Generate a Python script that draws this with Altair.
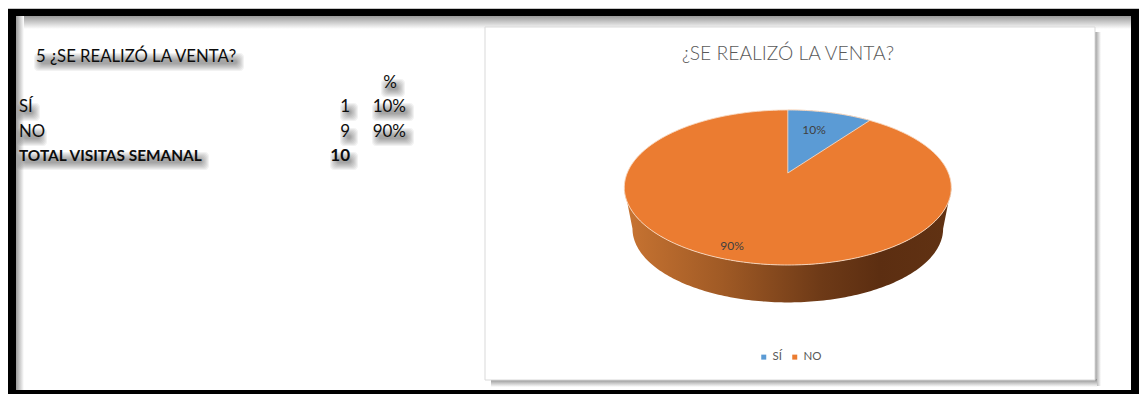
import math
import altair as alt

# Survey results
categories = ["SÍ", "NO"]
counts = [1, 9]
shares = [10, 90]
total = 10
heading = "5 ¿SE REALIZÓ LA VENTA?"
chart_title = "¿SE REALIZÓ LA VENTA?"

FONT = "Lato"
W, H = 1139, 394

# Perspective of the tilted pie disc
SEMI_X, SEMI_Y, TILT = 160.6, 74.8, 0.187
CENTER = [787.8, 173]
WALL_SCALE, WALL_DROP = 0.95, 42


def project(theta_deg, scale=1.0, drop=0.0):
    t = math.radians(theta_deg)
    d = 1 + TILT * math.cos(t)
    return [scale * SEMI_X * math.sin(t) / d, scale * SEMI_Y * math.cos(t) / d - drop]


def arc(start, end, **kw):
    n = max(2, int(abs(end - start)) + 1)
    return [project(start + (end - start) * i / (n - 1), **kw) for i in range(n)]


def feature(ring, category):
    ring = ring + [ring[0]]
    return {
        "type": "Feature",
        "properties": {"category": category},
        "geometry": {"type": "Polygon", "coordinates": [ring]},
    }


def geo_data(features):
    return alt.Data(
        values={"type": "FeatureCollection", "features": features},
        format=alt.DataFormat(property="features", type="json"),
    )


def rect(x, x2, y, y2, fill, **mark):
    return alt.Chart(alt.Data(values=[{"k": 0}])).mark_rect(color=fill, **mark).encode(
        x=alt.value(x), x2=alt.value(x2), y=alt.value(y), y2=alt.value(y2)
    )


def fade(horizontal, color):
    stops = [
        alt.GradientStop(offset=0, color=color),
        alt.GradientStop(offset=1, color="#ffffff"),
    ]
    return alt.Gradient(
        gradient="linear", stops=stops,
        x1=0, y1=0, x2=1 if horizontal else 0, y2=0 if horizontal else 1,
    )


# Page, black border and its soft inner shadow
SHADOW = "#9a9a9a"
page = [
    rect(0, W, 0, H, "#ffffff"),
    rect(8, W, 8, 9, "#c8c8c8"),
    rect(16, 1131, 16, 29, fade(False, SHADOW)),
    rect(16, 24, 16, 390, fade(True, SHADOW)),
    rect(8, W, 9, 16, "#000000"),
    rect(8, 16, 9, H, "#000000"),
    rect(1131, W, 9, H, "#000000"),
    rect(8, W, 390, H, "#000000"),
]

# Chart panel with its drop shadow
panel = [
    rect(1094, 1101, 32, 386, fade(True, "#8a8a8a")),
    rect(491, 1097, 379, 387, fade(False, "#8a8a8a")),
    rect(485, 1095, 27, 380, "#ffffff", stroke="#d9d9d9", strokeWidth=1),
]

# Pie: side wall, whole disc in the last colour, then the other slice on top
sweep = 360 * shares[0] / sum(shares)
widest = math.degrees(math.acos(-TILT))
wall_ring = arc(widest, 360 - widest) + arc(360 - widest, widest, scale=WALL_SCALE, drop=WALL_DROP)
wall_fill = alt.Gradient(
    gradient="linear", x1=0, y1=0, x2=1, y2=0,
    stops=[
        alt.GradientStop(offset=0, color="#c87432"),
        alt.GradientStop(offset=0.3, color="#a05a25"),
        alt.GradientStop(offset=0.6, color="#6e3a17"),
        alt.GradientStop(offset=0.78, color="#5c2e11"),
        alt.GradientStop(offset=1, color="#613213"),
    ],
)
projection = alt.Projection(type="identity", reflectY=True, scale=1, translate=CENTER)

wall = alt.Chart(geo_data([feature(wall_ring, "wall")])).mark_geoshape(
    fill=wall_fill, stroke=None, filled=True
).project(**projection.to_dict())

slices = [
    feature(arc(0, 360)[:-1], categories[1]),
    feature([[0, 0]] + arc(0, sweep), categories[0]),
]
color = alt.Color(
    "properties.category:N",
    scale=alt.Scale(domain=categories, range=["#5b9bd5", "#eb7c31"]),
    legend=alt.Legend(
        title=None, orient="none", legendX=758, legendY=351, direction="horizontal",
        symbolType="square", symbolSize=25, symbolStrokeWidth=0,
        labelFont=FONT, labelFontSize=11.5, labelColor="#595959", columnPadding=7, labelOffset=3,
    ),
)
disc = alt.Chart(geo_data(slices)).mark_geoshape(
    filled=True, stroke="#f7d9c2", strokeWidth=0.9
).encode(color=color).project(**projection.to_dict())


# Left-hand table; w is the cell text's width, used for its blurred shadow
def cell(text, x, y, w=0):
    return {"label": str(text), "x": x, "y": y, "w": w}


LEFT, NUM, PCT = 19, 350, 406
cells = {
    ("left", "normal", 16.7): [
        cell(heading, 36, 57, 200), cell(categories[0], LEFT, 107, 13), cell(categories[1], LEFT, 132, 20),
    ],
    ("left", "bold", 15.4): [cell("TOTAL VISITAS SEMANAL", LEFT, 156, 182)],
    ("center", "normal", 17): [cell("%", 390, 83, 14)],
    ("right", "normal", 17): [
        cell(counts[0], NUM, 107, 8), cell(f"{shares[0]}%", PCT, 107, 32),
        cell(counts[1], NUM, 132, 8), cell(f"{shares[1]}%", PCT, 132, 32),
    ],
    ("right", "bold", 17): [cell(total, NUM, 156, 18)],
}

# Blur is built from nested translucent bands, offset down and to the right
OFFSET_X, OFFSET_Y, HALF_CAP = 3, 5, 4
bands = []
for (align, _, _), rows in cells.items():
    for r in rows:
        left = r["x"] - {"left": 0, "center": r["w"] / 2, "right": r["w"]}[align]
        for grow in range(-2, 6):
            bands.append({
                "x": left + OFFSET_X - grow,
                "x2": left + r["w"] + OFFSET_X + grow,
                "y": r["y"] + OFFSET_Y - HALF_CAP - grow,
                "y2": r["y"] + OFFSET_Y + HALF_CAP + grow,
            })
shadows = alt.Chart(alt.Data(values=bands)).mark_rect(
    color="#000000", opacity=0.05, cornerRadius=4
).encode(
    x=alt.X("x:Q", scale=None), x2="x2:Q", y=alt.Y("y:Q", scale=None), y2="y2:Q"
)

table = []
for (align, weight, size), rows in cells.items():
    table.append(
        alt.Chart(alt.Data(values=rows)).mark_text(
            color="#0d0d0d", align=align, baseline="middle", font=FONT, fontSize=size, fontWeight=weight
        ).encode(x=alt.X("x:Q", scale=None), y=alt.Y("y:Q", scale=None), text="label:N")
    )

# Title and slice labels
labels = [
    alt.Chart(alt.Data(values=[cell(chart_title, 788, 54)])).mark_text(
        font=FONT, fontSize=19.3, fontWeight=300, color="#595959", align="center", baseline="middle"
    ).encode(x=alt.X("x:Q", scale=None), y=alt.Y("y:Q", scale=None), text="label:N"),
    alt.Chart(alt.Data(values=[cell(f"{shares[0]}%", 814, 130), cell(f"{shares[1]}%", 732, 246)])).mark_text(
        font=FONT, fontSize=12, color="#404040", align="center", baseline="middle"
    ).encode(x=alt.X("x:Q", scale=None), y=alt.Y("y:Q", scale=None), text="label:N"),
]

chart = alt.layer(*page, *panel, shadows, *table, wall, disc, *labels).properties(
    width=W, height=H, padding=0, autosize=alt.AutoSizeParams(type="none"), background="#ffffff"
).configure_view(stroke=None)

chart.save("out.html", embed_options={"renderer": "svg", "actions": False})
